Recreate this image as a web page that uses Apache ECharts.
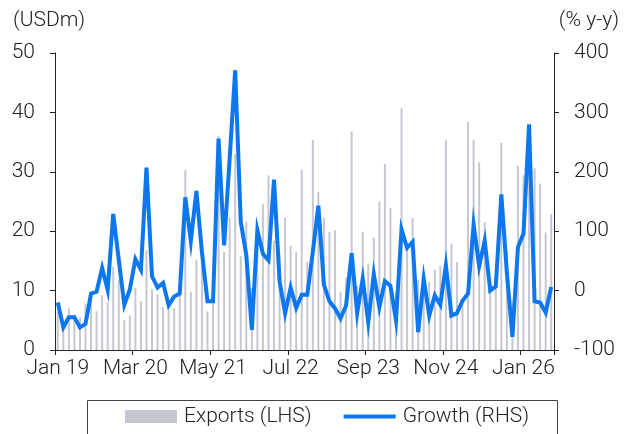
<!DOCTYPE html>
<html>
<head>
<meta charset="utf-8">
<script src="https://cdn.jsdelivr.net/npm/echarts@6/dist/echarts.min.js"></script>
<style>
html,body{margin:0;padding:0;background:#fff;}
#chart{width:625px;height:434px;}
</style>
</head>
<body>
<div id="chart"></div>
<script>
// Monthly categories Jan 19 .. Jun 26
const monthNames = ['Jan','Feb','Mar','Apr','May','Jun','Jul','Aug','Sep','Oct','Nov','Dec'];
const categories = [];
for (let y = 19; y <= 26; y++) {
  for (let m = 0; m < 12; m++) {
    if (y === 26 && m > 5) break;
    categories.push(monthNames[m] + ' ' + y);
  }
}

// Exports (USDm, LHS)
const exportsLHS = [
  6.5, 4.5, 7, 6, 5.5, 7.8, 9.5, 6.5, 9.2, 8, 14, 11.8,
  5, 5.8, 10.5, 8.2, 16.8, 10.2, 9.4, 7.2, 6.8, 7, 13, 30.3,
  9.8, 15.2, 17.5, 6.5, 13.8, 36, 16.5, 22.3, 33, 15.8, 21.6, 10.5,
  19.8, 24.6, 29.4, 18.4, 16.2, 22.3, 17.5, 16.5, 30.4, 14.8, 35.4, 26.6,
  22.3, 19.9, 20.2, 9.8, 12.2, 36.8, 10.8, 19.9, 14.5, 18.9, 25, 31.3,
  23.9, 9.8, 40.7, 16.9, 22.2, 11.8, 12.8, 11.5, 13.5, 14.2, 35.3, 17.9,
  14.8, 8, 38.4, 35.4, 31.6, 21.5, 12, 12, 34.9, 16.8, 8, 31,
  29.4, 30, 30.6, 28, 19.8, 22.9
];

// Growth (% y-y, RHS)
const growthRHS = [
  -20, -62, -45, -45, -62, -56, -5, -2, 38, 1, 129, 52,
  -24, 2, 53, 35, 207, 24, 5, 13, -25, -10, -5, 157,
  83, 168, 65, -18, -18, 256, 76, 222, 371, 116, 60, -66,
  102, 62, 51, 187, 16, -38, 5, -29, -7, -7, 65, 143,
  10, -18, -30, -47, -25, 63, -38, 20, -53, 28, -28, 16,
  8, -50, 103, 72, 82, -70, 20, -42, -8, -24, 43, -42,
  -38, -17, -5, 111, 41, 84, 0, 7, 162, 30, -78, 73,
  96, 280, -18, -20, -37, 6
];

const leftTicks = {min: 0, max: 50, interval: 10};
const rightTicks = {min: -100, max: 400, interval: 100};
const labelEvery = 14;

const FONT = 'Roboto';
const txt = {fontFamily: FONT, fontWeight: 300, fontSize: 21, color: '#222'};
const axisLineStyle = {color: '#222', width: 1};
const BAR_COLOR = '#c5c7d3';
const LINE_COLOR = '#0c77ef';

const chart = echarts.init(document.getElementById('chart'), null, {renderer: 'canvas'});
chart.setOption({
  backgroundColor: '#fff',
  animation: false,
  title: [
    {text: '(USDm)', left: 8, top: 5, textStyle: Object.assign({}, txt)},
    {text: '(% y-y)', right: 1, top: 5, textStyle: Object.assign({}, txt)}
  ],
  grid: {left: 55, right: 71, top: 53, bottom: 84, containLabel: false},
  legend: {
    left: 120, top: 401,
    itemWidth: 52, itemHeight: 13, itemGap: 32,
    symbolKeepAspect: true,
    textStyle: Object.assign({}, txt, {padding: [0, 0, 0, 2]}),
    data: [
      {name: 'Exports (LHS)', icon: 'rect', itemStyle: {color: BAR_COLOR}},
      {name: 'Growth (RHS)', icon: 'path://M0,0h52v4h-52z', itemStyle: {color: LINE_COLOR, borderWidth: 0}}
    ]
  },
  graphic: [{
    type: 'rect', left: 85, top: 398,
    shape: {width: 470, height: 60},
    style: {fill: 'none', stroke: '#444', lineWidth: 1}
  }],
  xAxis: {
    type: 'category',
    data: categories,
    boundaryGap: true,
    axisLine: {lineStyle: axisLineStyle},
    axisTick: {show: true, interval: labelEvery - 1, length: 5, inside: false, lineStyle: axisLineStyle},
    axisLabel: Object.assign({}, txt, {interval: labelEvery - 1, margin: 8}),
    splitLine: {show: false}
  },
  yAxis: [
    {
      type: 'value', position: 'left',
      min: leftTicks.min, max: leftTicks.max, interval: leftTicks.interval,
      axisLine: {show: true, lineStyle: axisLineStyle},
      axisTick: {show: true, length: 5, lineStyle: axisLineStyle},
      axisLabel: Object.assign({}, txt, {margin: 20}),
      splitLine: {show: false}
    },
    {
      type: 'value', position: 'right',
      min: rightTicks.min, max: rightTicks.max, interval: rightTicks.interval,
      axisLine: {show: true, lineStyle: axisLineStyle},
      axisTick: {show: true, length: 5, lineStyle: axisLineStyle},
      axisLabel: Object.assign({}, txt, {margin: 20}),
      splitLine: {show: false}
    }
  ],
  series: [
    {
      name: 'Exports (LHS)', type: 'bar', yAxisIndex: 0,
      data: exportsLHS, barWidth: 2,
      itemStyle: {color: BAR_COLOR},
      z: 1
    },
    {
      name: 'Growth (RHS)', type: 'line', yAxisIndex: 1,
      data: growthRHS, symbol: 'none', showSymbol: false,
      lineStyle: {color: LINE_COLOR, width: 4, join: 'miter'},
      itemStyle: {color: LINE_COLOR},
      z: 3
    }
  ]
});
</script>
</body>
</html>
